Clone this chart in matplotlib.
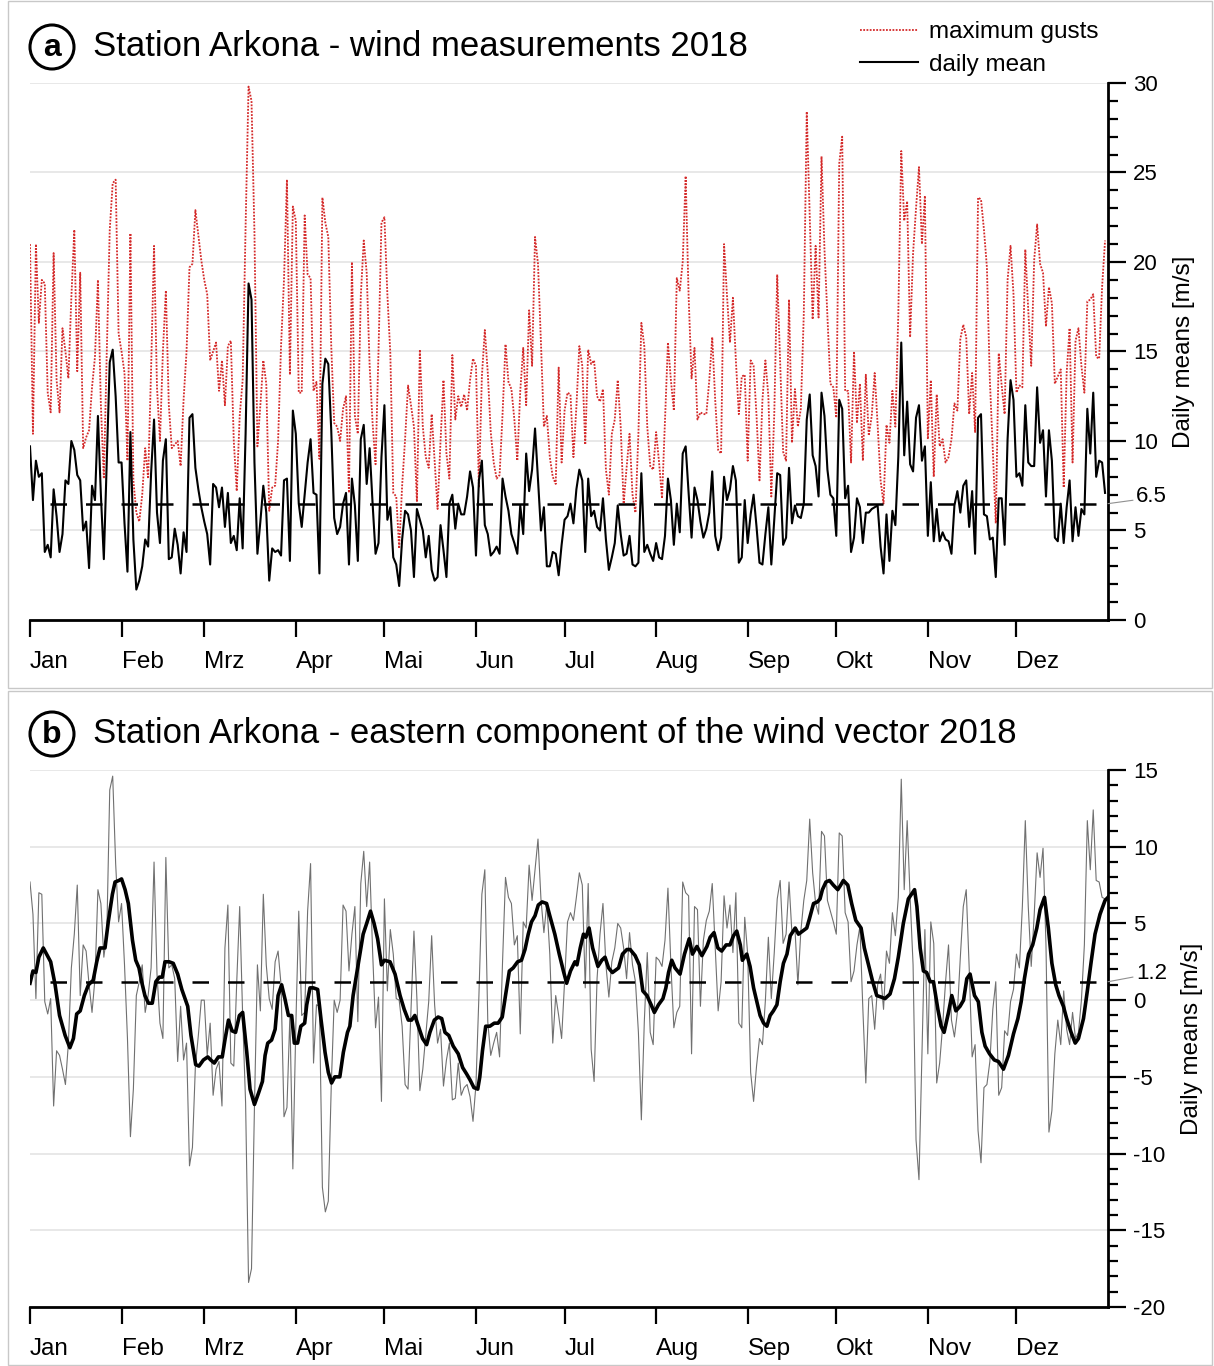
import matplotlib
matplotlib.use("Agg")
import matplotlib.pyplot as plt
from matplotlib.patches import Ellipse, Rectangle
from matplotlib.ticker import MultipleLocator
import numpy as np

plt.rcParams['font.family'] = ['Liberation Sans', 'DejaVu Sans']
plt.rcParams['axes.unicode_minus'] = False

# Tage ab 1. Januar 2018
month_start = [0, 31, 59, 90, 120, 151, 181, 212, 243, 273, 304, 334]
month_names = ['Jan', 'Feb', 'Mrz', 'Apr', 'Mai', 'Jun', 'Jul', 'Aug', 'Sep', 'Okt', 'Nov', 'Dez']

# maximale Boen [m/s]
gusts = [
    21, 10.4, 21, 16.6, 19, 18.8, 12.7, 11.6, 20.5, 13.4,
    11.6, 16.3, 15, 13.5, 18, 21.8, 13.9, 19.4, 9.6, 10.2,
    10.6, 13, 14.7, 19, 12, 7.9, 15, 21.8, 24.4, 24.6,
    16, 15, 13.8, 8.9, 21.6, 7.8, 6, 5.5, 7, 9.6,
    7.9, 14, 20.9, 13, 10, 15, 18.4, 12, 9.6, 9.8,
    10, 8.6, 12.3, 15, 19.7, 19.9, 22.9, 21.5, 20.1, 19,
    18.2, 14.5, 15, 15.5, 12.8, 14.5, 12, 15.3, 15.6, 10,
    7.2, 11.4, 13.4, 22, 29.8, 29, 21.6, 9.7, 12, 14.5,
    13.2, 6.1, 7.4, 7.5, 10, 15.3, 19, 24.6, 13.7, 23.1,
    22.3, 12.7, 12.7, 22.6, 19.3, 19.1, 12.8, 13.3, 9, 23.6,
    22.2, 21.4, 15.3, 11, 10.8, 10, 11.8, 12.5, 7.1, 20,
    11.4, 10.4, 18.1, 21.2, 19.4, 14.2, 11, 8.7, 15, 22.2,
    22.5, 18.2, 14.9, 7.1, 6.9, 4, 7.5, 10.1, 13.1, 12,
    10.8, 6.6, 15.1, 10.8, 9.1, 8.5, 11.5, 8.9, 6.2, 10,
    13.4, 9.3, 7.9, 14.8, 11.2, 12.5, 11.9, 12.6, 11.7, 13.4,
    14.6, 14.2, 7.4, 13.6, 16.2, 13.8, 10.5, 8.8, 7.9, 8.1,
    11.5, 15.4, 13.3, 12.9, 11.2, 8.9, 12.8, 15.2, 12, 17.3,
    14.2, 21.4, 19.9, 15.5, 10.8, 11.4, 9.1, 8, 7.6, 14.1,
    8.8, 11.7, 12.7, 12.6, 9.1, 11.9, 15.3, 14.2, 9.8, 15.1,
    14.3, 14.5, 12.5, 12.2, 12.9, 8.4, 7, 10.4, 11.2, 13.4,
    10.8, 6.5, 8.5, 10.4, 7, 6, 10.4, 16.6, 15.3, 10.8,
    8.6, 8.4, 10.5, 8.8, 6.8, 11.2, 15.5, 13.4, 11.7, 19.1,
    18.4, 20, 24.8, 18.1, 13.5, 15.2, 11.2, 11.6, 11.5, 11.5,
    13.4, 15.8, 12.3, 9.5, 9.3, 21, 18.1, 15.5, 18, 14.5,
    11.5, 13.6, 13.7, 8.9, 14.5, 14.2, 11.4, 7.8, 12.3, 14.5,
    12.5, 6.9, 11.5, 19.3, 14.3, 9.4, 8.9, 17.9, 9.9, 12.9,
    10.8, 11.8, 17.1, 28.4, 22.7, 16.8, 20.9, 16.9, 25.9, 20.7,
    16.9, 13.2, 13, 11.3, 25.5, 27, 12.8, 12.8, 8.8, 15,
    11, 13.2, 8.9, 13.7, 10.3, 11.4, 13.8, 10.9, 7.8, 6.5,
    10.9, 9.9, 12.8, 10.8, 17.1, 26.2, 22.3, 23.4, 15.8, 20.5,
    23, 25.3, 21, 23.7, 10.1, 13.4, 8, 12.6, 9.7, 10.1,
    8.8, 9.1, 10.1, 12.1, 11.7, 15.7, 16.5, 15.8, 11.5, 13.8,
    10.5, 23.6, 23.5, 21.8, 19.7, 13.4, 9.5, 5.4, 14.9, 13.1,
    11.5, 19, 20.9, 18.2, 12.7, 13.1, 13, 20.7, 17.3, 14.2,
    20.1, 22.1, 19.9, 19.4, 16.4, 18.6, 17.7, 13.2, 13.6, 14,
    7.4, 13.8, 16.3, 8.8, 15.6, 16.3, 14.2, 12.7, 17.8, 17.9,
    18.2, 14.7, 14.6, 18.6, 21.2,
]

# Tagesmittel der Windgeschwindigkeit [m/s]
daily_mean = [
    9.7, 6.7, 8.9, 8, 8.2, 3.8, 4.2, 3.5, 7.3, 5.8,
    3.8, 4.8, 7.8, 7.6, 10, 9.5, 8.1, 7.8, 5, 5.5,
    2.9, 7.5, 6.7, 11.4, 7, 3.4, 9, 14.4, 15.1, 12.5,
    8.8, 8.8, 5.4, 2.7, 10.5, 4.5, 1.7, 2.2, 3, 4.5,
    4.1, 8.2, 11.2, 6, 4.3, 8.9, 10.1, 3.4, 3.5, 5.1,
    4.2, 2.6, 4.9, 3.8, 11.3, 11.5, 8.5, 7.3, 6.3, 5.5,
    4.8, 3.1, 7.6, 7.4, 6.3, 7.4, 5.2, 7.1, 4.3, 4.7,
    3.9, 6.8, 4, 10.4, 18.8, 17.9, 8.8, 3.7, 5.5, 7.5,
    6, 2.2, 4, 3.8, 3.9, 3.6, 7.8, 7.9, 3.3, 11.7,
    10.4, 6.5, 5.2, 7, 8.8, 10.1, 7.1, 7, 2.6, 13.2,
    14.6, 14.3, 10.6, 5.7, 4.8, 5.2, 6.5, 7.1, 3.1, 7.9,
    6.4, 3.3, 10.1, 10.9, 7.6, 9.6, 6.5, 3.7, 4.3, 9.1,
    12, 5.6, 6.3, 3.5, 3.1, 1.9, 4.5, 6.1, 5.9, 5,
    2.4, 6.2, 5.6, 5, 3.5, 4.7, 2.8, 2.2, 2.4, 5.3,
    3.9, 2.4, 6.5, 7, 5.1, 6.5, 5.9, 5.9, 6.9, 8.3,
    7.4, 3.6, 7.8, 8.9, 5.3, 4.8, 3.6, 3.8, 4.1, 3.7,
    7.9, 6.9, 6.1, 4.8, 4.3, 3.7, 6.4, 4.8, 9.3, 7.2,
    8.4, 10.7, 7.8, 5, 6.3, 3, 3, 3.8, 3.7, 2.5,
    4.2, 5.6, 5.8, 6.5, 5.4, 7.3, 8.4, 7.8, 3.8, 7.9,
    5.8, 6.1, 5.2, 5, 6.8, 4.5, 2.8, 3.5, 4.3, 6.4,
    4.8, 3.6, 3.7, 4.7, 3.1, 3, 3.2, 8.2, 3.8, 4.2,
    3.7, 3.3, 4.3, 3.5, 3.4, 4.7, 7.9, 6.7, 4.2, 6.5,
    4.9, 9.3, 9.7, 7.1, 4.6, 7.4, 6.7, 5.5, 4.6, 5.1,
    6, 8.3, 4.7, 3.9, 4.6, 8, 6.7, 7.3, 8.6, 7.8,
    3.2, 3.5, 6.7, 4.3, 5.9, 7, 5.2, 3.2, 3.1, 4.8,
    6.3, 3.1, 5.6, 8.2, 8.1, 4.2, 4.6, 8.5, 5.4, 6.4,
    5.8, 5.7, 6.5, 11.2, 12.6, 9.2, 8.6, 6.9, 12.7, 11.4,
    8.4, 7, 6.8, 4.7, 12.3, 11.8, 6.8, 7.5, 3.8, 4.6,
    6.8, 6.3, 4.3, 6, 6, 6.2, 6.3, 6.4, 4.1, 2.6,
    5.9, 3.3, 6.1, 5.3, 9.1, 15.5, 9.2, 12.2, 8.7, 8.3,
    11.3, 12, 8.9, 9.7, 4.7, 7.7, 4.4, 6.2, 4.4, 4.9,
    4.5, 4.4, 3.7, 6.4, 7.2, 6, 7.5, 7.8, 5.2, 7.2,
    3.7, 11.3, 11.5, 5.9, 5.8, 4.5, 4.6, 2.4, 6.8, 6.8,
    4.2, 10.1, 13.4, 12.3, 8, 8.2, 7.5, 12, 8.8, 8.6,
    8.6, 13, 9.9, 10.6, 6.9, 10.6, 8.9, 4.6, 4.4, 6.5,
    4.3, 6.3, 7.8, 4.4, 6.3, 4.7, 6.2, 5.9, 11.8, 9.3,
    12.7, 8, 8.9, 8.8, 7.1,
]

# Ostkomponente des Windvektors, Tageswerte [m/s]
east_daily = [
    7.7, 5.6, 0.1, 7, 6.9, -0.1, -0.9, 0.1, -6.9, -3.3,
    -3.6, -4.5, -5.5, -2.8, 2.1, 4.3, 7.5, 0.3, 3.6, 3.2,
    1, -0.8, 1.4, 7.2, 6.3, 2.8, 4.3, 13.7, 14.6, 8.9,
    5.1, 6.3, 2.3, -2.5, -8.9, -5.8, 0.3, 1.2, 2.3, -0.8,
    0.3, 2.1, 9, 1.7, -1.5, -2.5, 9.3, 2.1, 2.3, 1.4,
    -4, -0.4, -3.9, -2.8, -10.8, -9.6, -4.3, -2.3, 0, 0,
    -3.6, -1.5, -6.2, -4.5, -4, -6.9, 3.4, 6.2, -4.1, -4.3,
    1.2, 6.1, -1, -6.7, -18.4, -17.5, -6.9, 2.3, -0.7, 6.9,
    2.3, 0.1, -0.6, 2.5, 3.2, 1, -7.6, -7, -1, -11,
    -1.7, 5.8, -1, -0.8, 5.8, 8.9, -4.1, -0.3, -0.4, -12.2,
    -13.8, -13.1, -5.6, 0, -0.8, 0, 6.2, 5.8, 1.9, 4.3,
    6.1, -1.4, 7.6, 9.7, 6.1, 9, 3.2, -1.8, 0.2, -6.6,
    6.6, 0.6, 4.6, 3, 0.1, 0, -1.7, -5.5, -5.8, -0.6,
    4.5, 0.1, -5.9, -4.5, -2.3, -0.1, 4.2, -0.3, -2.8, -1.9,
    -5.6, -3.9, -2.8, -6.5, -6.4, -4.1, -6.2, -5.7, -5.5, -6.3,
    -7.9, -5.5, 0.3, 6.9, 8.5, -1.4, -3.6, -2.8, -2.1, -3.7,
    2.5, 8, 6.7, 6.3, 3.6, 4.2, -2.2, 5.1, 4.7, 8.8,
    6.5, 8.5, 10.5, 6.6, 4.4, 6.3, 3, -2.8, 0.3, -1,
    -2.5, 1.2, 5.1, 5.7, 5.2, 6.7, 8.3, 7.5, 0.8, 7.6,
    -3.2, -5.3, 1.4, 4.3, 6.3, 2.3, 0.2, 2.5, 3.4, 5,
    4.7, 3.4, 1.4, 4.4, 2.3, 1.2, -2.1, -7.8, -1.4, 3.1,
    -2.1, -2.9, 2.8, 2.6, 2.2, 3.9, 7.3, 2.3, -1.8, -0.8,
    -0.4, 7.7, 7, 6.8, -3.5, 6.1, 5.9, -0.4, 3.9, 5.2,
    5.8, 7.6, 3.4, -0.7, 1.2, 6.8, 4.7, 6.2, 3.1, 7,
    -1.5, -1.8, 5.4, 3, -4.7, -6.6, -4.3, -2.5, -2.9, 0,
    4.1, 0.1, 3.1, 6.6, 7.8, 3.7, 4.3, 7.7, 4.3, 4.7,
    1, 4.5, 6.5, 7.8, 11.8, 8.3, 6.3, 5.6, 11, 10.7,
    6.5, 5.8, 5.1, 4.3, 10.9, 10.7, 5.7, 5.1, 1.2, 1.9,
    3.6, 4.8, -0.6, -5.4, 0.1, 0.3, -1.9, 1, 1.7, -0.6,
    3.2, 2.4, 5.7, 4.2, 6.7, 14.4, 7.2, 11.7, 6.7, 2.3,
    -9.1, -11.7, -3.4, 4.6, -3.5, 5.1, 3.7, -5.4, -4.1, -1.7,
    1.2, 3.6, -1.3, -2.4, -0.8, 2.8, 6.1, 7.2, 2.1, -3.7,
    -2.9, -8.5, -10.6, -5.7, -5.5, -4, -0.6, 1.2, -6.2, -5.7,
    -2, -2.3, -0.1, 0.7, 3, 2.1, 6.1, 11.7, 6.1, 2.2,
    5.5, 9.6, 8, 9.9, 3.6, -8.6, -7.2, -3.5, -1.3, -2.9,
    0.6, -1.9, -2.9, -0.8, -2.5, -2.1, 0, 3.6, 11.7, 8.5,
    12.4, 7.8, 7.7, 6.7, 6.6,
]

# geglaettete Ostkomponente
smooth_day = [
    0, 1, 2, 3, 4.5, 5.6, 7, 8.5, 10, 11.9, 13.5, 14.7, 15.8, 17, 18.4, 19.8,
    21.4, 22.6, 23.7, 25.4, 26.5, 27.9, 28.8, 30.1, 31, 32.2, 33.3, 34.7, 35.8,
    36.9, 37.8, 38.9, 40.1, 41.4, 42.6, 43.8, 44.8, 45.7, 47.1, 48.5, 50, 51.4,
    53.4, 54.5, 56.1, 57.2, 58.7, 60.2, 61.2, 62.4, 63.8, 65.1, 66, 67.2, 68.4,
    69.6, 70.9, 72, 73.4, 74.5, 76, 77.3, 78.7, 79.6, 80.5, 81.8, 83, 84, 85.2,
    86.3, 87.5, 88.6, 89.5, 90.6, 91.7, 93, 93.7, 94.8, 95.9, 97.4, 98.5, 99.9,
    101, 102.1, 103.2, 104.9, 106.1, 107.5, 108.3, 109.4, 110.6, 111.7, 112.8,
    114, 115.3, 116.5, 117.7, 119, 120, 121.9, 123.6, 125.3, 126.7, 128.1,
    129.2, 130.3, 131.5, 132.9, 134.3, 135.4, 136.9, 138.2, 139.4, 140.5,
    141.8, 143.3, 145, 146.5, 147.8, 149, 150.3, 151.6, 152.3, 153.2, 154.3,
    155.7, 157.2, 158.5, 159.9, 161, 162.3, 163.6, 165.1, 166.4, 167.6, 168.7,
    169.8, 171, 172.1, 173.4, 174.9, 176, 177.7, 179.2, 180.6, 181.7, 183,
    184.5, 185.2, 186.3, 187.4, 188.2, 189.3, 190.5, 192.3, 193.6, 194.7,
    195.9, 197.2, 199.3, 200.6, 202.1, 203.2, 204.9, 206.3, 207.5, 208.9,
    210.3, 211.4, 212.8, 214.3, 215.3, 216.2, 217.3, 218.4, 220.1, 221.6,
    223.2, 224.3, 225.8, 227.5, 229.2, 230.3, 231.6, 232.9, 234.2, 235.7, 237,
    238.2, 239.3, 240.5, 241.2, 242.7, 243.8, 245, 246.1, 247.2, 248.4, 249.5,
    250.6, 251.7, 252.9, 254, 255.1, 256.3, 257.4, 259.1, 260.2, 261.6, 263,
    263.9, 265.3, 266.6, 267.5, 268.3, 269.5, 270.7, 272, 273.5, 274.5, 275.4,
    276.9, 278.2, 279.6, 281.4, 282.5, 283.9, 285.2, 286.7, 288.2, 289.5,
    291.2, 292.7, 294, 295.7, 297.4, 299.5, 300.3, 301.4, 302.5, 303.6, 304.8,
    305.9, 307.4, 308.5, 309.5, 311, 312.1, 313.5, 314.9, 316.1, 317.2, 318.3,
    319.8, 321.1, 322.3, 323.4, 324.9, 326.5, 327.9, 329.6, 331.3, 333, 334.5,
    335.6, 336.7, 338.1, 339.5, 340.9, 342, 343.5, 344.8, 346, 347.3, 348.4,
    349.9, 351, 352.5, 353.9, 355, 356.7, 358, 359.3, 360.6, 362.3, 364, 365,
]
smooth_val = [
    1.1, 1.9, 1.8, 2.8, 3.4, 3.0, 2.5, 1.0, -1.0, -2.3, -3.1, -2.5, -0.9, -0.7, 0.3, 1.0,
    1.3, 2.5, 3.4, 3.4, 5.1, 6.9, 7.7, 7.8, 7.9, 7.2, 6.3, 3.9, 2.6,
    2.1, 1.2, 0.3, -0.2, -0.2, 1.2, 1.5, 1.5, 2.5, 2.5, 2.4, 1.7, 0.7,
    -0.4, -2.3, -4.2, -4.3, -3.9, -3.7, -3.9, -4.1, -3.7, -3.7, -2.6, -1.3, -2.0,
    -2.1, -1.0, -0.8, -3.4, -5.8, -6.8, -6.1, -5.3, -3.6, -2.8, -2.6, -1.9, 0.3, 1.0,
    0.1, -1.0, -1.0, -2.8, -2.8, -1.7, -1.5, -0.3, 0.8, 0.8, 0.7, -1.2, -3.4,
    -4.7, -5.4, -5.0, -5.0, -3.4, -2.1, -1.7, 0.3, 1.7, 3.0, 4.3,
    5.0, 5.8, 5.0, 4.0, 2.3, 2.6, 2.5, 1.7, 0.3, -0.6, -1.3,
    -1.3, -1.0, -1.7, -2.5, -2.9, -2.1, -1.3, -1.1, -1.2, -2.1,
    -2.3, -3.0, -3.5, -4.4, -4.8, -5.2, -5.7, -5.8, -5.0, -3.3, -1.7,
    -1.7, -1.5, -1.5, -1.1, 0.3, 1.9, 2.1, 2.5, 2.6, 3.3, 4.3,
    5.1, 5.5, 6.2, 6.4, 6.3, 5.5, 4.3, 3.0, 1.9, 1.1, 1.9,
    2.5, 2.3, 3.4, 4.3, 4.1, 4.7, 3.4, 2.2, 2.6, 2.8,
    2.1, 1.8, 2.1, 3.0, 3.3, 3.3, 2.9, 2.3, 0.6, 0.3,
    -0.3, -0.8, -0.3, 0.1, 0.8, 1.8, 2.6, 2.1, 1.7, 3.0,
    4.0, 3.0, 3.5, 2.9, 3.5, 4.1, 4.4, 3.4, 3.2, 3.6, 3.6,
    4.2, 4.5, 3.6, 2.6, 3.0, 2.2, 0.8, -0.1, -1.0, -1.5, -1.7,
    -1.0, -0.7, -0.3, 1.2, 2.4, 3.0, 4.2, 4.7, 4.3, 4.5, 4.7,
    5.3, 6.3, 6.4, 6.6, 7.2, 7.7, 7.8, 7.5, 7.2, 7.5, 7.8,
    7.5, 6.3, 5.2, 4.7, 3.4, 2.3, 1.3, 0.3, 0.2, 0.1,
    0.4, 1.4, 2.8, 5.0, 6.6, 7.2, 6.1, 3.4, 1.9, 1.8, 1.2,
    1.2, -0.6, -1.7, -2.1, -0.8, 0.3, -0.7, -0.4, 0.0, 1.4, 1.7,
    0.3, -0.1, -2.1, -3.0, -3.5, -3.9, -4.0, -4.5, -3.6, -2.2, -1.2,
    -0.1, 1.4, 3.0, 3.6, 4.7, 5.9, 6.7, 4.7, 2.4, 1.0, 0.3,
    -0.4, -1.2, -2.1, -2.8, -2.5, -1.2, 0.6, 2.5, 4.3, 5.6, 6.5, 6.7,
]

speed_ref = 6.5   # mittlere Windgeschwindigkeit
east_ref = 1.2    # mittlere Ostkomponente

W, H = 1214, 1366
fig = plt.figure(figsize=(W / 100, H / 100), dpi=100)

def fx(px):
    return px / W

def fy(py):
    return 1 - py / H

# Rahmen der beiden Teilbilder
for top, bot in [(1, 688), (691, 1365)]:
    fig.patches.append(Rectangle((fx(8), fy(bot)), fx(1204), (bot - top) / H,
                                 transform=fig.transFigure, fill=False,
                                 ec='#c8c8c8', lw=1.0))

ax_a = fig.add_axes([fx(30), fy(620), fx(1078), 537 / H])
ax_b = fig.add_axes([fx(30), fy(1307), fx(1078), 537 / H])

days = np.arange(len(gusts))


def style_axis(ax, ylo, yhi, ref, reflabel_dy):
    ax.set_xlim(0, 365)
    ax.set_ylim(ylo, yhi)
    for s in ['left', 'top']:
        ax.spines[s].set_visible(False)
    ax.spines['right'].set_linewidth(2.0)
    ax.spines['bottom'].set_linewidth(2.0)
    ax.yaxis.tick_right()
    ax.yaxis.set_label_position('right')
    ax.yaxis.set_major_locator(MultipleLocator(5))
    ax.yaxis.set_minor_locator(MultipleLocator(1))
    ax.tick_params(axis='y', which='major', length=13, width=1.6, pad=5,
                   labelsize=16, direction='out')
    ax.tick_params(axis='y', which='minor', length=7, width=1.6, direction='out')
    ax.set_xticks(month_start)
    ax.set_xticklabels(month_names, ha='left')
    ax.tick_params(axis='x', length=12, width=1.6, pad=10, labelsize=17.5)
    ax.grid(axis='y', color='#e4e4e4', lw=1.2)
    ax.set_axisbelow(True)
    ax.set_ylabel('Daily means [m/s]', fontsize=17.5, labelpad=11)
    ax.plot([6.8, 365], [ref, ref], color='black', lw=1.8,
            ls=(0, (6.6, 7.6)), zorder=4)
    # Beschriftung des Mittelwerts
    ax.annotate(f'{ref:g}', xy=(365, ref), xycoords='data',
                xytext=(20, reflabel_dy), textcoords='offset points',
                fontsize=16, va='center', ha='left', annotation_clip=False,
                arrowprops=dict(arrowstyle='-', color='#909090', lw=0.8,
                                shrinkA=0, shrinkB=0, relpos=(0, 0.35)))


# (a) Windmessungen
style_axis(ax_a, 0, 30, speed_ref, 5)
l1, = ax_a.plot(days, gusts, color='#d42a2a', lw=1.3, ls=(0, (1, 0.8)),
                label='maximum gusts', zorder=2)
l2, = ax_a.plot(days, daily_mean, color='black', lw=1.5, label='daily mean',
                zorder=3)

# (b) Ostkomponente
style_axis(ax_b, -20, 15, east_ref, 6)
ax_b.plot(days, east_daily, color='#707070', lw=0.8, zorder=2)
ax_b.plot(smooth_day, smooth_val, color='black', lw=2.6, zorder=3,
          solid_joinstyle='round')

# Titel mit Kreisbuchstaben
for cy, letter, title in [(47, 'a', 'Station Arkona - wind measurements 2018'),
                          (734, 'b', 'Station Arkona - eastern component of the wind vector 2018')]:
    fig.patches.append(Ellipse((fx(52), fy(cy)), 44 / W, 44 / H,
                               transform=fig.transFigure, fill=False,
                               ec='black', lw=2.2))
    fig.text(fx(52), fy(cy + 1), letter, fontsize=23, fontweight='bold',
             ha='center', va='center')
    fig.text(fx(93), fy(cy), title, fontsize=25, ha='left', va='center')

fig.legend(handles=[l1, l2], loc='upper left',
           bbox_to_anchor=(fx(860), fy(21)), frameon=False, fontsize=17.5,
           handlelength=2.4, handletextpad=0.42, labelspacing=0.45,
           borderaxespad=0, borderpad=0)

fig.savefig('out.png', dpi=100)
